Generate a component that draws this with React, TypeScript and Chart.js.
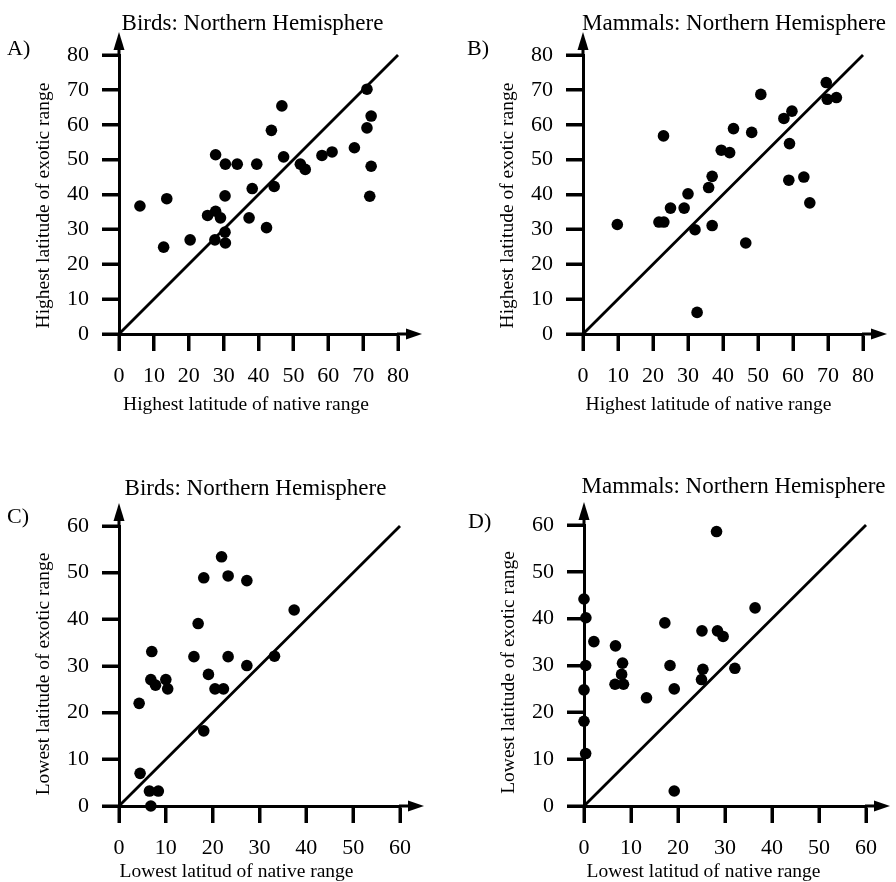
import React, { useEffect, useRef } from 'react';
import { Chart, registerables } from 'chart.js';

Chart.register(...registerables);

// A) Birds — highest latitude: native range (x) vs exotic range (y)
const birdsHighNative = [6.0, 12.8, 13.7, 20.4, 25.4, 27.7, 27.7, 27.5, 29.1, 30.4, 30.4, 30.5, 30.5, 33.9, 37.3, 38.2, 39.5, 42.3, 43.7, 44.5, 46.7, 47.2, 52.0, 53.4, 58.2, 61.1, 67.5, 71.1, 71.1, 72.3, 72.3, 71.9];
const birdsHighExotic = [36.7, 24.9, 38.8, 27.0, 34.0, 51.4, 35.2, 27.0, 33.3, 39.6, 29.2, 26.1, 48.7, 48.7, 33.3, 41.7, 48.7, 30.5, 58.4, 42.3, 65.4, 50.8, 48.7, 47.2, 51.2, 52.2, 53.4, 70.2, 59.1, 62.5, 48.1, 39.5];

// B) Mammals — highest latitude
const mammalsHighNative = [9.8, 21.7, 23.1, 23.0, 25.0, 28.9, 30.0, 32.0, 32.6, 35.9, 36.9, 36.9, 39.5, 41.9, 43.0, 46.5, 48.2, 50.8, 57.4, 59.7, 59.0, 58.8, 63.1, 64.8, 69.5, 69.8, 72.4];
const mammalsHighExotic = [31.4, 32.1, 32.1, 56.8, 36.1, 36.1, 40.2, 29.9, 6.2, 42.0, 45.2, 31.1, 52.7, 52.0, 58.9, 26.1, 57.8, 68.7, 61.8, 63.9, 54.6, 44.1, 45.0, 37.6, 72.1, 67.3, 67.8];

// C) Birds — lowest latitude
const birdsLowNative = [4.3, 4.5, 6.5, 8.4, 6.8, 7.0, 6.8, 7.8, 10.0, 10.4, 16.0, 16.9, 18.1, 18.1, 19.1, 20.5, 22.3, 21.9, 23.3, 23.3, 27.3, 27.3, 33.2, 37.4];
const birdsLowExotic = [22.0, 7.0, 3.2, 3.2, 0.0, 33.1, 27.1, 25.9, 27.1, 25.1, 32.0, 39.1, 48.9, 16.1, 28.2, 25.1, 25.1, 53.4, 49.3, 32.0, 48.3, 30.1, 32.1, 42.0];

// D) Mammals — lowest latitude
const mammalsLowNative = [0.0, 0.4, 0.35, 0.0, 0.0, 0.35, 2.1, 6.7, 6.6, 8.2, 8.0, 8.4, 13.3, 17.2, 18.3, 19.2, 19.2, 25.1, 25.3, 25.0, 28.2, 28.4, 29.6, 32.1, 36.4];
const mammalsLowExotic = [44.2, 40.2, 30.0, 24.8, 18.1, 11.2, 35.1, 34.2, 26.0, 30.5, 28.1, 26.0, 23.1, 39.1, 30.0, 25.0, 3.2, 37.4, 29.2, 27.0, 58.6, 37.4, 36.2, 29.4, 42.3];

// Axis ranges and tick spacing
const highAxisMax = 80;
const lowAxisMax = 60;
const tickStep = 10;

// Text
const panelLetters = ['A)', 'B)', 'C)', 'D)'];
const panelTitles = ['Birds: Northern Hemisphere', 'Mammals: Northern Hemisphere', 'Birds: Northern Hemisphere', 'Mammals: Northern Hemisphere'];
const xTitles = ['Highest latitude of native range', 'Highest latitude of native range', 'Lowest latitud of native range', 'Lowest latitud of native range'];
const yTitles = ['Highest latitude of exotic range', 'Highest latitude of exotic range', 'Lowest latitude of exotic range', 'Lowest latitude of exotic range'];

const SERIF = '"Liberation Serif", "Times New Roman", serif';
const INK = '#000';
const AXIS_W = 3;
const TICK_LEN = 17;

type Layout = {
  ox: number; oy: number; w: number; h: number;
  area: { l: number; t: number; r: number; b: number };
  letter: { x: number; y: number };
  title: { x: number; y: number };
  xTitle: { x: number; y: number };
  yTitle: { x: number; y: number };
};

// page-space layout of each panel
const layouts: Layout[] = [
  { ox: 0, oy: 0, w: 448, h: 441, area: { l: 119, t: 55, r: 398, b: 334 },
    letter: { x: 7, y: 55 }, title: { x: 252.5, y: 29.5 }, xTitle: { x: 246, y: 410 }, yTitle: { x: 44, y: 205.5 } },
  { ox: 448, oy: 0, w: 448, h: 441, area: { l: 583, t: 55, r: 863, b: 334 },
    letter: { x: 467, y: 55 }, title: { x: 734, y: 29.5 }, xTitle: { x: 708.5, y: 410 }, yTitle: { x: 508, y: 205.5 } },
  { ox: 0, oy: 441, w: 448, h: 441, area: { l: 119, t: 526, r: 400, b: 806 },
    letter: { x: 7, y: 523 }, title: { x: 255.5, y: 495 }, xTitle: { x: 236.5, y: 877 }, yTitle: { x: 43.5, y: 674 } },
  { ox: 448, oy: 441, w: 448, h: 441, area: { l: 584, t: 525, r: 866, b: 806 },
    letter: { x: 468, y: 528 }, title: { x: 733.5, y: 493 }, xTitle: { x: 703.5, y: 877 }, yTitle: { x: 508.5, y: 672.5 } },
];

const panelData = [
  { xs: birdsHighNative, ys: birdsHighExotic, max: highAxisMax },
  { xs: mammalsHighNative, ys: mammalsHighExotic, max: highAxisMax },
  { xs: birdsLowNative, ys: birdsLowExotic, max: lowAxisMax },
  { xs: mammalsLowNative, ys: mammalsLowExotic, max: lowAxisMax },
];

const Y_AXIS_W = 70;
const X_AXIS_H = 60;

function strokeLine(ctx: CanvasRenderingContext2D, x1: number, y1: number, x2: number, y2: number) {
  ctx.beginPath();
  ctx.moveTo(x1, y1);
  ctx.lineTo(x2, y2);
  ctx.stroke();
}

// Outward tick marks, axis arrowheads, and the panel letter / titles
const panelDecor = {
  id: 'panelDecor',
  afterDraw(chart: any, _args: any, opts: any) {
    const { ctx, chartArea: a, scales } = chart;
    const ox: number = opts.ox;
    const oy: number = opts.oy;
    ctx.save();
    ctx.globalCompositeOperation = 'source-over';
    ctx.globalAlpha = 1;
    ctx.setLineDash([]);
    ctx.fillStyle = '#000000';
    ctx.strokeStyle = '#000000';
    ctx.lineWidth = AXIS_W;
    ctx.lineCap = 'butt';

    // tick marks at every scale tick
    const xs = scales.x;
    const ys = scales.y;
    for (let i = 0; i < xs.ticks.length; i++) {
      const p = Math.round(xs.getPixelForValue(xs.ticks[i].value));
      strokeLine(ctx, p, a.bottom, p, a.bottom + TICK_LEN);
    }
    for (let i = 0; i < ys.ticks.length; i++) {
      const p = Math.round(ys.getPixelForValue(ys.ticks[i].value));
      strokeLine(ctx, a.left - TICK_LEN, p, a.left, p);
    }

    // x-axis arrow
    const yb = a.bottom;
    strokeLine(ctx, a.right - 1, yb, a.right + 12, yb);
    ctx.beginPath();
    ctx.moveTo(a.right + 24, yb);
    ctx.lineTo(a.right + 8, yb - 5.5);
    ctx.lineTo(a.right + 8, yb + 5.5);
    ctx.closePath();
    ctx.fill();

    // y-axis arrow
    const xl = a.left;
    strokeLine(ctx, xl, a.top + 1, xl, a.top - 10);
    ctx.beginPath();
    ctx.moveTo(xl, a.top - 23);
    ctx.lineTo(xl - 5.5, a.top - 5);
    ctx.lineTo(xl + 5.5, a.top - 5);
    ctx.closePath();
    ctx.fill();

    // texts
    ctx.textBaseline = 'alphabetic';
    ctx.font = `22px ${SERIF}`;
    ctx.textAlign = 'left';
    ctx.fillText(opts.letter, opts.letterX - ox, opts.letterY - oy);

    ctx.font = `23px ${SERIF}`;
    ctx.textAlign = 'center';
    ctx.fillText(opts.title, opts.titleX - ox, opts.titleY - oy);

    ctx.font = `19.5px ${SERIF}`;
    ctx.fillText(opts.xTitle, opts.xTitleX - ox, opts.xTitleY - oy);

    ctx.save();
    ctx.translate(opts.yTitleX - ox, opts.yTitleY - oy);
    ctx.rotate(-Math.PI / 2);
    ctx.textBaseline = 'middle';
    ctx.fillText(opts.yTitle, 0, 0);
    ctx.restore();

    ctx.restore();
  },
};

function axisOptions(max: number, isX: boolean) {
  return {
    type: 'linear' as const,
    min: 0,
    max,
    afterFit: (scale: any) => {
      if (isX) scale.height = X_AXIS_H;
      else scale.width = Y_AXIS_W;
    },
    ticks: {
      stepSize: tickStep,
      autoSkip: false,
      maxRotation: 0,
      color: INK,
      padding: isX ? 12 : 13,
      font: { family: SERIF, size: 22 },
    },
    grid: {
      drawOnChartArea: false,
      drawTicks: true,
      tickLength: TICK_LEN,
      tickWidth: AXIS_W,
      tickColor: '#000000',
    },
    border: { display: true, color: INK, width: AXIS_W },
  };
}

function Panel({ index }: { index: number }) {
  const ref = useRef<HTMLCanvasElement>(null);
  const L = layouts[index];

  useEffect(() => {
    const d = panelData[index];
    const points = d.xs.map((x, i) => ({ x, y: d.ys[i] }));
    const chart = new Chart(ref.current as HTMLCanvasElement, {
      type: 'scatter',
      data: {
        datasets: [
          {
            type: 'scatter',
            data: points,
            pointRadius: 5.8,
            pointHoverRadius: 5.8,
            backgroundColor: INK,
            borderWidth: 0,
            order: 1,
            clip: false,
          } as any,
          {
            type: 'line',
            data: [{ x: 0, y: 0 }, { x: d.max, y: d.max }],
            borderColor: INK,
            borderWidth: 2.8,
            pointRadius: 0,
            fill: false,
            order: 2,
            clip: false,
          } as any,
        ],
      },
      options: {
        animation: false,
        responsive: false,
        maintainAspectRatio: false,
        events: [],
        layout: {
          padding: {
            left: L.area.l - L.ox - Y_AXIS_W,
            top: L.area.t - L.oy,
            right: L.ox + L.w - L.area.r,
            bottom: L.oy + L.h - L.area.b - X_AXIS_H,
          },
        },
        plugins: {
          legend: { display: false },
          tooltip: { enabled: false },
          panelDecor: {
            ox: L.ox,
            oy: L.oy,
            letter: panelLetters[index],
            letterX: L.letter.x,
            letterY: L.letter.y,
            title: panelTitles[index],
            titleX: L.title.x,
            titleY: L.title.y,
            xTitle: xTitles[index],
            xTitleX: L.xTitle.x,
            xTitleY: L.xTitle.y,
            yTitle: yTitles[index],
            yTitleX: L.yTitle.x,
            yTitleY: L.yTitle.y,
          },
        } as any,
        scales: {
          x: axisOptions(d.max, true) as any,
          y: axisOptions(d.max, false) as any,
        },
      },
      plugins: [panelDecor],
    });
    return () => chart.destroy();
  }, [index]);

  return (
    <canvas
      ref={ref}
      width={L.w}
      height={L.h}
      style={{ position: 'absolute', left: L.ox, top: L.oy, width: L.w, height: L.h }}
    />
  );
}

export default function App() {
  return (
    <div style={{ position: 'absolute', left: 0, top: 0, width: 896, height: 882, background: '#fff' }}>
      {layouts.map((_, i) => (
        <Panel key={i} index={i} />
      ))}
    </div>
  );
}
